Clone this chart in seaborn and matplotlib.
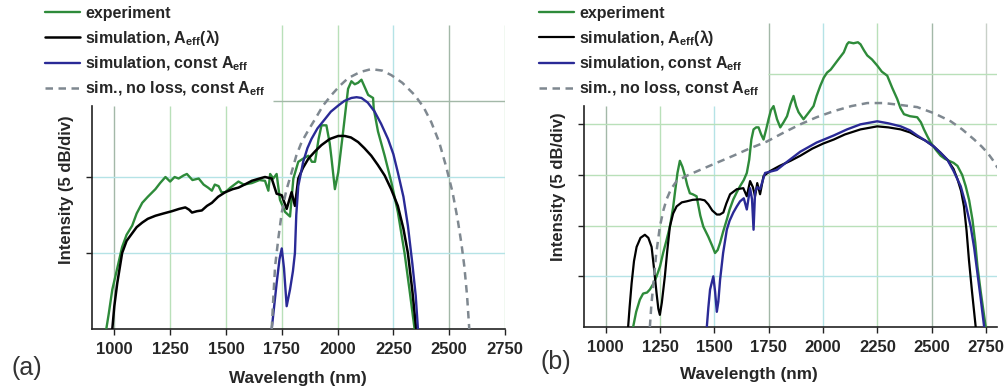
import matplotlib
matplotlib.use("Agg")
import matplotlib.pyplot as plt
import seaborn as sns
import pandas as pd

# ---- panel (a) ----
a_exp_wl = [964, 975, 991, 1010, 1035, 1055, 1080, 1100, 1125, 1150, 1184, 1205, 1229, 1250, 1270, 1288,
            1310, 1325, 1350, 1378, 1400, 1420, 1437, 1450, 1467, 1480, 1497, 1520, 1556, 1580, 1616,
            1650, 1675, 1690, 1698, 1712, 1727, 1742, 1765, 1787, 1802, 1824, 1845, 1869, 1885, 1899,
            1915, 1928, 1950, 1965, 1973, 1988, 2003, 2025, 2047, 2062, 2077, 2092, 2107, 2125, 2137,
            2159, 2162, 2181, 2211, 2241, 2270, 2300, 2322, 2345]
a_exp_db = [0, 1.0, 2.6, 3.8, 5.4, 6.2, 6.8, 7.6, 8.3, 8.7, 9.2, 9.6, 10.0, 9.7, 10.0, 9.9,
            10.1, 10.2, 9.8, 9.9, 9.5, 9.3, 9.1, 9.5, 9.4, 9.0, 9.0, 9.3, 9.7, 9.5, 9.6,
            9.8, 9.75, 9.1, 10.2, 9.9, 10.2, 8.5, 7.7, 7.4, 9.9, 11.0, 11.2, 11.4, 11.0, 11.0,
            12.5, 13.4, 13.4, 12.2, 11.2, 9.2, 10.3, 13.0, 15.8, 16.3, 16.1, 16.2, 16.4, 15.8, 15.4,
            15.2, 14.5, 13.0, 11.4, 9.65, 7.7, 5.0, 2.6, 0]

a_sim_wl = [991, 1000, 1013, 1035, 1055, 1080, 1100, 1125, 1150, 1184, 1220, 1258, 1290, 1318, 1335,
            1348, 1370, 1392, 1415, 1437, 1465, 1497, 1530, 1556, 1590, 1616, 1650, 1675, 1705, 1727,
            1750, 1772, 1794, 1809, 1824, 1845, 1869, 1900, 1928, 1965, 2003, 2032, 2060, 2092, 2120,
            2151, 2180, 2211, 2240, 2270, 2295, 2315, 2335, 2352]
a_sim_db = [0, 1.5, 3.0, 5.0, 5.8, 6.3, 6.7, 7.0, 7.25, 7.45, 7.6, 7.75, 7.9, 8.0, 7.85,
            7.66, 7.75, 7.8, 8.1, 8.3, 8.7, 9.0, 9.2, 9.3, 9.55, 9.75, 9.9, 10.0, 9.9, 8.9,
            8.8, 7.9, 9.0, 8.1, 9.9, 10.6, 11.2, 11.7, 12.1, 12.5, 12.7, 12.7, 12.6, 12.3, 11.9,
            11.4, 10.8, 10.1, 9.2, 8.1, 6.6, 5.0, 2.5, 0]

a_const_wl = [1705, 1727, 1740, 1750, 1760, 1772, 1787, 1800, 1809, 1815, 1824, 1846, 1865, 1883, 1910,
              1943, 1970, 2003, 2030, 2062, 2085, 2107, 2135, 2166, 2195, 2226, 2250, 2270, 2295, 2315,
              2335, 2350, 2360]
a_const_db = [0, 3.0, 4.6, 5.3, 4.0, 1.5, 2.6, 3.8, 5.0, 7.5, 9.4, 11.0, 11.9, 12.5, 13.2,
              13.8, 14.3, 14.7, 15.0, 15.2, 15.25, 15.2, 14.9, 14.3, 13.5, 12.5, 11.5, 10.3, 8.7, 6.8,
              4.3, 2.2, 0]

a_noloss_wl = [1705, 1712, 1720, 1735, 1750, 1770, 1794, 1815, 1839, 1870, 1899, 1935, 1973, 2010, 2047,
               2100, 2151, 2200, 2241, 2290, 2345, 2385, 2420, 2455, 2486, 2515, 2538, 2555, 2568, 2580, 2590]
a_noloss_db = [0, 2.0, 4.1, 6.0, 7.66, 9.1, 10.3, 11.4, 12.3, 13.1, 13.8, 14.7, 15.4, 16.0, 16.5,
               16.9, 17.1, 17.0, 16.7, 16.2, 15.4, 14.6, 13.6, 12.3, 10.7, 9.0, 7.2, 5.6, 4.1, 2.2, 0]

# ---- panel (b) ----
b_exp_wl = [1126, 1140, 1157, 1172, 1190, 1203, 1220, 1234, 1250, 1264, 1280, 1295, 1310, 1318, 1330,
            1341, 1353, 1365, 1375, 1387, 1400, 1418, 1435, 1449, 1472, 1490, 1503, 1515, 1526, 1540,
            1557, 1570, 1587, 1603, 1618, 1635, 1649, 1660, 1670, 1680, 1692, 1703, 1715, 1726, 1738,
            1749, 1760, 1772, 1788, 1803, 1818, 1834, 1850, 1864, 1876, 1887, 1900, 1910, 1935, 1956,
            1970, 1987, 2003, 2018, 2035, 2049, 2070, 2095, 2110, 2118, 2140, 2160, 2172, 2188, 2203,
            2225, 2249, 2270, 2295, 2318, 2341, 2356, 2372, 2400, 2433, 2450, 2464, 2480, 2495, 2518,
            2541, 2560, 2579, 2600, 2618, 2640, 2656, 2672, 2687, 2700, 2710, 2725, 2748]
b_exp_db = [0, 1.5, 2.7, 3.3, 3.4, 3.7, 4.3, 5.0, 6.0, 7.3, 8.6, 9.9, 11.8, 13.2, 15.2,
            16.4, 15.8, 14.9, 14.0, 13.2, 13.1, 12.9, 11.0, 9.9, 8.9, 8.0, 7.3, 7.6, 8.3, 9.4,
            10.6, 11.6, 12.6, 13.3, 13.9, 14.5, 15.2, 16.5, 18.5, 19.5, 19.7, 19.7, 19.0, 18.5, 19.5,
            20.5, 21.4, 21.8, 20.5, 19.7, 20.2, 20.8, 22.0, 22.8, 21.8, 21.2, 20.8, 20.5, 21.2, 21.8,
            22.8, 23.8, 24.6, 25.1, 25.4, 25.8, 26.4, 27.1, 27.9, 28.1, 28.0, 28.1, 27.9, 27.3, 26.8,
            26.4, 25.8, 25.2, 24.8, 23.6, 22.5, 21.6, 21.0, 20.8, 20.7, 20.2, 19.5, 18.8, 18.2, 17.5,
            16.9, 16.6, 16.4, 16.2, 15.9, 15.0, 13.9, 12.5, 10.6, 8.3, 6.0, 3.5, 0]

b_sim_wl = [1103, 1110, 1119, 1130, 1142, 1160, 1180, 1196, 1211, 1222, 1234, 1242, 1249, 1258, 1272,
            1283, 1295, 1310, 1326, 1350, 1372, 1400, 1434, 1455, 1472, 1490, 1511, 1525, 1541, 1555,
            1572, 1603, 1633, 1649, 1664, 1677, 1687, 1697, 1710, 1726, 1757, 1800, 1850, 1895, 1950,
            2000, 2049, 2100, 2172, 2249, 2300, 2357, 2400, 2433, 2470, 2510, 2540, 2572, 2600, 2618,
            2635, 2648, 2660, 2671, 2685, 2702]
b_sim_db = [0, 2.0, 4.3, 6.5, 7.9, 8.8, 9.1, 8.8, 7.9, 5.8, 3.3, 1.8, 1.2, 2.4, 5.0,
            7.5, 9.9, 11.2, 11.9, 12.3, 12.4, 12.55, 12.6, 12.5, 12.1, 11.5, 11.1, 11.1, 11.3, 12.2,
            13.1, 13.6, 13.7, 12.9, 14.4, 13.8, 12.9, 14.2, 13.1, 14.9, 15.4, 15.9, 16.4, 16.9, 17.6,
            18.1, 18.5, 19.0, 19.5, 19.8, 19.7, 19.5, 19.2, 18.8, 18.4, 17.8, 17.2, 16.5, 15.6, 14.6,
            13.4, 11.9, 9.5, 6.6, 3.5, 0]

b_const_wl = [1465, 1472, 1480, 1495, 1503, 1511, 1518, 1526, 1540, 1557, 1570, 1587, 1603, 1618, 1635,
              1649, 1664, 1673, 1680, 1687, 1697, 1710, 1733, 1787, 1840, 1895, 1970, 2049, 2110, 2172,
              2249, 2300, 2357, 2400, 2433, 2470, 2510, 2540, 2572, 2600, 2633, 2655, 2679, 2695, 2710,
              2725, 2741]
b_const_db = [0, 1.9, 3.7, 5.0, 3.5, 1.5, 2.5, 4.65, 7.3, 9.6, 10.5, 11.3, 11.9, 12.4, 12.7,
              11.6, 13.7, 12.6, 9.6, 13.3, 13.8, 13.6, 15.2, 15.5, 16.4, 17.3, 18.2, 18.9, 19.5, 20.0,
              20.3, 20.1, 19.8, 19.4, 18.9, 18.4, 17.8, 17.2, 16.5, 15.4, 13.9, 12.2, 9.9, 7.8, 5.3,
              2.8, 0]

b_noloss_wl = [1203, 1210, 1218, 1232, 1249, 1265, 1280, 1300, 1326, 1380, 1434, 1510, 1587, 1660, 1741,
               1820, 1895, 1970, 2049, 2130, 2203, 2280, 2360, 2433, 2510, 2587, 2640, 2695, 2730, 2756,
               2780, 2803]
b_noloss_db = [0, 2.2, 4.0, 7.2, 9.9, 11.5, 12.6, 13.6, 14.4, 15.0, 15.5, 16.2, 16.9, 17.6, 18.3,
               19.2, 20.0, 20.7, 21.3, 21.8, 22.1, 22.1, 21.9, 21.7, 21.1, 20.3, 19.5, 18.5, 17.8, 17.2,
               16.5, 15.7]

x_ticks = [1000, 1250, 1500, 1750, 2000, 2250, 2500, 2750]
labels = ["experiment",
          r"simulation, A$_{\mathregular{eff}}$(λ)",
          r"simulation, const A$_{\mathregular{eff}}$",
          r"sim., no loss, const A$_{\mathregular{eff}}$"]

sns.set_style("white")
plt.rcParams["font.family"] = ["Liberation Sans", "DejaVu Sans"]
plt.rcParams["mathtext.fontset"] = "custom"
plt.rcParams["mathtext.rm"] = "Liberation Sans:bold"
plt.rcParams["mathtext.it"] = "Liberation Sans:bold"
plt.rcParams["mathtext.bf"] = "Liberation Sans:bold"

GREEN = "#2e8b3a"
BLUE = "#2a2a96"
GRAY = "#7f8890"
G_DARK = "#a3b8a8"
G_LIGHT = "#b9e0b9"
C_LIGHT = "#b5e3e6"

fig = plt.figure(figsize=(10.05, 3.89), dpi=100)
ax_a = fig.add_axes([92 / 1005, 60 / 389, 413 / 1005, 304 / 389])
ax_b = fig.add_axes([584 / 1005, 62 / 389, 413 / 1005, 304 / 389])


def draw_panel(ax, xlim, ylim, spine_top, vcols, hlines, series):
    # grid drawn by hand: short lines under the legend area, full ones elsewhere
    for xv, col in zip(x_ticks, vcols):
        if xv > xlim[1]:
            continue
        top = spine_top if xv < 1700 else ylim[1]
        ax.vlines(xv, 0, top, color=col, lw=1.0, zorder=0)
    for yv, x0, col in hlines:
        ax.hlines(yv, x0, xlim[1], color=col, lw=1.0, zorder=0)

    for (wl, db), col, ls, lw, lab in series:
        df = pd.DataFrame({"wl": wl, "db": db})
        sns.lineplot(data=df, x="wl", y="db", ax=ax, color=col, lw=lw, linestyle=ls,
                     label=lab, legend=False, zorder=3)

    ax.set_xlim(*xlim)
    ax.set_ylim(*ylim)
    ax.set_xticks(x_ticks)
    ax.set_xticklabels([str(t) for t in x_ticks], fontsize=12, fontweight="bold")
    ax.set_yticks([t for t in range(5, int(spine_top) + 1, 5)])
    ax.set_yticklabels([])
    ax.tick_params(axis="both", direction="out", length=4, width=1, color="#222222", pad=5, left=True, bottom=True)
    ax.set_xlabel("")
    ax.set_ylabel("")
    for s in ["top", "right"]:
        ax.spines[s].set_visible(False)
    ax.spines["left"].set_bounds(0, spine_top)
    for s in ["left", "bottom"]:
        ax.spines[s].set_color("#222222")
        ax.spines[s].set_linewidth(1.2)


draw_panel(ax_a, (900, 2750), (0, 20), 14.7,
           [G_DARK, G_LIGHT, G_LIGHT, G_LIGHT, G_LIGHT, C_LIGHT, G_DARK, G_LIGHT],
           [(5, 900, C_LIGHT), (10, 900, C_LIGHT), (15, 1711, G_DARK)],
           [((a_exp_wl, a_exp_db), GREEN, "-", 1.7, labels[0]),
            ((a_sim_wl, a_sim_db), "black", "-", 1.8, labels[1]),
            ((a_const_wl, a_const_db), BLUE, "-", 1.7, labels[2]),
            ((a_noloss_wl, a_noloss_db), GRAY, (0, (3, 2.2)), 1.8, labels[3])])

draw_panel(ax_b, (900, 2800), (0, 30), 21.8,
           [G_DARK, G_LIGHT, C_LIGHT, G_DARK, C_LIGHT, G_LIGHT, G_DARK, "#c8d0c8"],
           [(5, 900, C_LIGHT), (10, 900, G_LIGHT), (15, 900, G_LIGHT), (20, 900, G_LIGHT),
            (25, 1747, G_LIGHT)],
           [((b_exp_wl, b_exp_db), GREEN, "-", 1.7, labels[0]),
            ((b_sim_wl, b_sim_db), "black", "-", 1.6, labels[1]),
            ((b_const_wl, b_const_db), BLUE, "-", 1.7, labels[2]),
            ((b_noloss_wl, b_noloss_db), GRAY, (0, (3, 2.2)), 1.8, labels[3])])

for ax, x0 in [(ax_a, 45), (ax_b, 539)]:
    h, l = ax.get_legend_handles_labels()
    ax.legend(h, l, loc="upper left", bbox_to_anchor=(x0 / 1005, 1 - 6 / 389),
              bbox_transform=fig.transFigure, frameon=False,
              prop=dict(weight="bold", size=11.5), handlelength=2.2, handletextpad=0.3,
              labelspacing=0.42, borderpad=0, borderaxespad=0)

fig.text(67 / 1005, 1 - 190 / 389, "Intensity (5 dB/div)", rotation=90, ha="center", va="center",
         fontsize=12, fontweight="bold")
fig.text(558 / 1005, 1 - 187 / 389, "Intensity (5 dB/div)", rotation=90, ha="center", va="center",
         fontsize=12, fontweight="bold")
fig.text(298 / 1005, 1 - 378 / 389, "Wavelength (nm)", ha="center", va="center",
         fontsize=12.3, fontweight="bold")
fig.text(749 / 1005, 1 - 375 / 389, "Wavelength (nm)", ha="center", va="center",
         fontsize=12.3, fontweight="bold")
fig.text(27 / 1005, 1 - 368 / 389, "(a)", ha="center", va="center", fontsize=18, color="#333333")
fig.text(556 / 1005, 1 - 362 / 389, "(b)", ha="center", va="center", fontsize=18, color="#333333")

fig.savefig("out.png", dpi=100)
